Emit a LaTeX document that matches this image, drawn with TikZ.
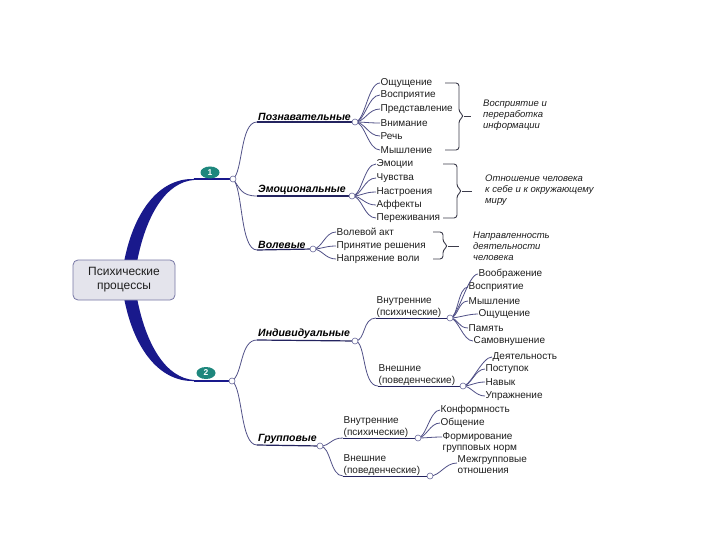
\documentclass[tikz,border=0pt]{standalone}
\usepackage{fontspec}
\setmainfont{Liberation Sans}
\usetikzlibrary{shapes.geometric}
\definecolor{navy}{RGB}{25,25,140}
\definecolor{linec}{RGB}{80,80,135}
\definecolor{ulc}{RGB}{35,35,95}
\definecolor{jcc}{RGB}{105,105,155}
\definecolor{brc}{RGB}{60,60,75}
\definecolor{teal1}{RGB}{30,135,125}
\definecolor{boxf}{RGB}{228,228,236}
\definecolor{boxd}{RGB}{120,120,165}
\definecolor{txt}{RGB}{30,30,30}
\newcommand\mybrk[6]{%
  \draw[brc] (#1,#4) -- (#2,#4) -- (#2,#5-4) -- (#2+5,#5) -- (#2,#5+4) -- (#2,#6) -- (#1,#6);
  \draw[brc] (#2+5,#5) -- (#3,#5);}
\begin{document}
\begin{tikzpicture}[x=1pt,y=-1pt,
  leaf/.style={anchor=west, inner sep=0.5pt, font=\fontsize{10}{11}\selectfont, text=txt},
  cat/.style={anchor=south west, inner sep=1pt, font=\fontsize{10.5}{12}\bfseries\itshape\selectfont, text=black},
  sub/.style={anchor=south west, inner sep=0.5pt, align=left, font=\fontsize{10}{11.5}\selectfont, text=txt},
  note/.style={anchor=west, inner sep=0pt, align=left, font=\fontsize{9.5}{11}\itshape\selectfont, text=txt},
  conn/.style={draw=linec, line width=0.8pt},
  uline/.style={draw=ulc, line width=1.2pt},
  sline/.style={draw=ulc, line width=0.9pt},
  jc/.style={circle, draw=jcc, fill=white, line width=0.6pt, minimum size=6pt, inner sep=0pt},
  brc/.style={draw=brc, line width=0.9pt, rounded corners=3pt},
  badge/.style={ellipse, fill=teal1, minimum width=19pt, minimum height=12pt, inner sep=0pt, text=white, font=\fontsize{8.5}{8.5}\bfseries\selectfont},
  root/.style={draw=boxd, fill=boxf, line width=0.8pt, rounded corners=5pt, minimum width=102pt, minimum height=40pt, align=center, font=\fontsize{12}{14}\selectfont, text=txt}
]
\useasboundingbox (0,0) rectangle (720,540);
\fill[white] (0,0) rectangle (720,540);

% junction coordinates
\coordinate (J1) at (233,179);
\coordinate (J2) at (232,381);
\coordinate (t1) at (194,179);
\coordinate (t2) at (194,381);
\coordinate (Jpz) at (355,122);
\coordinate (Jem) at (352,196);
\coordinate (Jvo) at (313,249);
\coordinate (Jin) at (355,341);
\coordinate (Jgr) at (320,446);
\coordinate (Jiv) at (450,318);
\coordinate (Jie) at (463,386);
\coordinate (Jgv) at (418,438);
\coordinate (Jge) at (430,476);

% trunks
\fill[navy] (124,262) .. controls (134,210) and (160,178) .. (t1) -- (194,180) .. controls (166,182) and (146,215) .. (137,262) -- cycle;
\fill[navy] (124,298) .. controls (134,350) and (160,382) .. (t2) -- (194,380) .. controls (166,378) and (146,345) .. (137,298) -- cycle;
\draw[navy, line width=1.6pt] (t1) -- (J1);
\draw[navy, line width=1.6pt] (t2) -- (J2);
\node[root] (root) at (124,280) {Психические\\процессы};
\node[badge] (b1) at (210,172.5) {1};
\node[badge] (b2) at (206,373) {2};

% categories
\node[cat] (pz) at (257,122) {Познавательные};
\node[cat] (em) at (257,196) {Эмоциональные};
\node[cat] (vo) at (257,250) {Волевые};
\node[cat] (in) at (257,340) {Индивидуальные};
\node[cat] (gr) at (257,445) {Групповые};
\draw[conn] (J1) .. controls (243,172) and (240,122) .. (pz.south west);
\draw[conn] (J1) .. controls (240,188) and (241,196) .. (em.south west);
\draw[conn] (J1) .. controls (243,188) and (240,250) .. (vo.south west);
\draw[conn] (J2) .. controls (243,374) and (240,340) .. (in.south west);
\draw[conn] (J2) .. controls (243,388) and (240,445) .. (gr.south west);
\draw[uline] (pz.south west) -- (Jpz);
\draw[uline] (em.south west) -- (Jem);
\draw[uline] (vo.south west) -- (Jvo);
\draw[uline] (in.south west) -- (Jin);
\draw[uline] (gr.south west) -- (Jgr);

% sub-branches
\node[sub] (iv) at (376,318) {Внутренние\\(психические)};
\node[sub] (ie) at (378,386) {Внешние\\(поведенческие)};
\node[sub] (gv) at (343,438) {Внутренние\\(психические)};
\node[sub] (ge) at (343,476) {Внешние\\(поведенческие)};
\draw[conn] (Jin) .. controls (366,341) and (362,318) .. (iv.south west);
\draw[conn] (Jin) .. controls (366,341) and (362,386) .. (ie.south west);
\draw[conn] (Jgr) .. controls (331,446) and (330,438) .. (gv.south west);
\draw[conn] (Jgr) .. controls (331,446) and (330,476) .. (ge.south west);
\draw[sline] (iv.south west) -- (Jiv);
\draw[sline] (ie.south west) -- (Jie);
\draw[sline] (gv.south west) -- (Jgv);
\draw[sline] (ge.south west) -- (Jge);

% leaves
\node[leaf] (p1) at (380,83) {Ощущение};
\node[leaf] (p2) at (380,95) {Восприятие};
\node[leaf] (p3) at (380,109) {Представление};
\node[leaf] (p4) at (380,123) {Внимание};
\node[leaf] (p5) at (380,136) {Речь};
\node[leaf] (p6) at (380,150) {Мышление};
\foreach \l in {p1,p2,p3,p4,p5,p6} \draw[conn] (Jpz) .. controls +(10,0) and +(-12,0) .. (\l.west);

\node[leaf] (e1) at (376,164) {Эмоции};
\node[leaf] (e2) at (376,178) {Чувства};
\node[leaf] (e3) at (376,192) {Настроения};
\node[leaf] (e4) at (376,205) {Аффекты};
\node[leaf] (e5) at (376,218) {Переживания};
\foreach \l in {e1,e2,e3,e4,e5} \draw[conn] (Jem) .. controls +(10,0) and +(-12,0) .. (\l.west);

\node[leaf] (v1) at (336,232) {Волевой акт};
\node[leaf] (v2) at (336,246) {Принятие решения};
\node[leaf] (v3) at (336,259) {Напряжение воли};
\foreach \l in {v1,v2,v3} \draw[conn] (Jvo) .. controls +(9,0) and +(-11,0) .. (\l.west);

\node[leaf] (i1) at (478,274) {Воображение};
\node[leaf] (i2) at (468,287) {Восприятие};
\node[leaf] (i3) at (468,301) {Мышление};
\node[leaf] (i4) at (478,314) {Ощущение};
\node[leaf] (i5) at (468,328) {Память};
\node[leaf] (i6) at (473,341) {Самовнушение};
\foreach \l in {i1,i2,i3,i4,i5,i6} \draw[conn] (Jiv) .. controls +(8,0) and +(-10,0) .. (\l.west);

\node[leaf] (o1) at (492,357) {Деятельность};
\node[leaf] (o2) at (485,369) {Поступок};
\node[leaf] (o3) at (485,382) {Навык};
\node[leaf] (o4) at (485,396) {Упражнение};
\foreach \l in {o1,o2,o3,o4} \draw[conn] (Jie) .. controls +(8,0) and +(-10,0) .. (\l.west);

\node[leaf] (g1) at (440,410) {Конформность};
\node[leaf] (g2) at (440,423) {Общение};
\node[leaf, align=left] (g3) at (442,443) {Формирование\\групповых норм};
\node[leaf, align=left] (g4) at (457,465) {Межгрупповые\\отношения};
\draw[conn] (Jgv) .. controls +(8,0) and +(-10,0) .. (g1.west);
\draw[conn] (Jgv) .. controls +(8,0) and +(-10,0) .. (g2.west);
\draw[conn] (Jgv) .. controls +(8,0) and +(-10,0) .. ([yshift=6pt]g3.west);
\draw[conn] (Jge) .. controls +(10,0) and +(-12,0) .. ([yshift=2pt]g4.west);

% braces and notes
\mybrk{445}{459}{471}{83}{116}{150}
\mybrk{443}{457}{472}{164}{191}{218}
\mybrk{433}{443}{459}{232}{246}{259}
\node[note] (n1) at (483,115) {Восприятие и\\переработка\\информации};
\node[note] (n2) at (485,190) {Отношение человека\\к себе и к окружающему\\миру};
\node[note] (n3) at (473,246) {Направленность\\деятельности\\человека};

% junction circles
\foreach \j in {J1,J2,Jpz,Jem,Jvo,Jin,Jgr,Jiv,Jie,Jgv,Jge} \node[jc] at (\j) {};
\end{tikzpicture}
\end{document}
